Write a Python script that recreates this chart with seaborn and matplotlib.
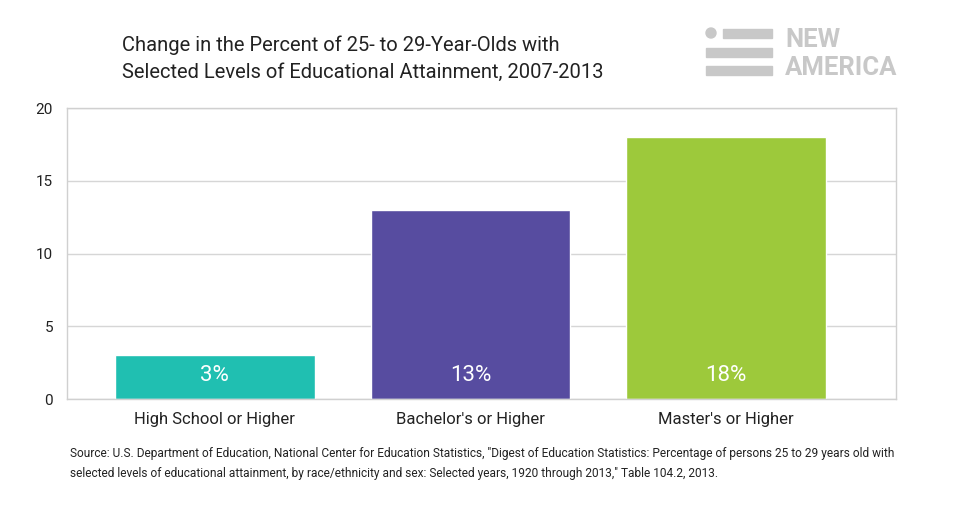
import matplotlib
matplotlib.use("Agg")
import matplotlib.pyplot as plt
import seaborn as sns
import pandas as pd
from matplotlib.patches import Rectangle, Ellipse
from matplotlib import font_manager

# --- data ---
categories = ["High School or Higher", "Bachelor's or Higher", "Master's or Higher"]
values = [3, 13, 18]
value_labels = ["3%", "13%", "18%"]
colors = ["#20bfb1", "#574ca0", "#9dc93b"]
y_ticks = [0, 5, 10, 15, 20]

df = pd.DataFrame({"level": categories, "change": values})

sns.set_theme(style="white")
names = {f.name for f in font_manager.fontManager.ttflist}
main_font = "Roboto" if "Roboto" in names else "DejaVu Sans"
narrow_font = "Liberation Sans Narrow" if "Liberation Sans Narrow" in names else main_font
plt.rcParams["font.family"] = [main_font, "DejaVu Sans"]

fig = plt.figure(figsize=(9.6, 5.09), dpi=100)
ax = fig.add_axes([0.0698, 0.2161, 0.8635, 0.5717])

sns.barplot(data=df, x="level", y="change", hue="level", palette=colors,
            width=0.78, legend=False, ax=ax, saturation=1)

ax.set_xlim(-0.578, 2.664)
ax.set_ylim(0, 20)
ax.set_yticks(y_ticks)
ax.yaxis.grid(True, color="#d6d6d6", linewidth=1)
ax.set_axisbelow(True)
for s in ax.spines.values():
    s.set_visible(True)
    s.set_color("#d0d0d0")
    s.set_linewidth(1)
ax.tick_params(axis="both", length=0, colors="#222222")
ax.tick_params(axis="x", labelsize=12, pad=9)
ax.tick_params(axis="y", labelsize=11, pad=10)
ax.set_xlabel("")
ax.set_ylabel("")

for i, lab in enumerate(value_labels):
    ax.text(i, 1.6, lab, ha="center", va="center", color="white",
            fontsize=16, family=[narrow_font, "DejaVu Sans"])

fig.text(0.127, 0.93, "Change in the Percent of 25- to 29-Year-Olds with\n"
         "Selected Levels of Educational Attainment, 2007-2013",
         ha="left", va="top", fontsize=14.5, color="#222222", linespacing=1.5)

fig.text(0.073, 0.122,
         "Source: U.S. Department of Education, National Center for Education Statistics, "
         "\"Digest of Education Statistics: Percentage of persons 25 to 29 years old with\n"
         "selected levels of educational attainment, by race/ethnicity and sex: Selected years, "
         "1920 through 2013,\" Table 104.2, 2013.",
         ha="left", va="top", fontsize=8.6, color="#222222", linespacing=1.75,
         family=[narrow_font, "DejaVu Sans"])

# logo
logo_gray = "#c8c8c8"
W, H = 960, 509
def frect(x0, y0, x1, y1):
    fig.patches.append(Rectangle((x0 / W, 1 - y1 / H), (x1 - x0) / W, (y1 - y0) / H,
                                 transform=fig.transFigure, color=logo_gray))
fig.patches.append(Ellipse((711 / W, 1 - 33 / H), 10 / W, 10 / H,
                           transform=fig.transFigure, color=logo_gray))
frect(723, 29, 772, 37.5)
frect(706, 47.5, 772, 56.5)
frect(706, 66.5, 772, 75)
fig.text(785 / W, 1 - 47 / H, "NEW", ha="left", va="baseline", fontsize=18.5,
         fontweight="bold", color=logo_gray)
fig.text(785 / W, 1 - 75 / H, "AMERICA", ha="left", va="baseline", fontsize=18.5,
         fontweight="bold", color=logo_gray)

fig.savefig("out.png", dpi=100)
